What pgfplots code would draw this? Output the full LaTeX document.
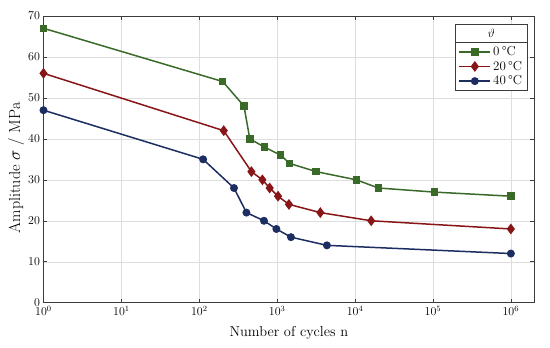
\documentclass[border=0pt]{standalone}
\usepackage{pgfplots}
\pgfplotsset{compat=1.18}
\definecolor{cgreen}{RGB}{58,106,40}
\definecolor{cred}{RGB}{136,22,24}
\definecolor{cblue}{RGB}{28,45,97}
\definecolor{axcol}{RGB}{60,60,60}
\begin{document}
\begin{tikzpicture}
\begin{axis}[
  scale only axis,
  width=490.8pt, height=286.7pt,
  xmode=log, log basis x=10,
  xmin=1, xmax=2e6,
  ymin=0, ymax=70,
  ytick={0,10,...,70},
  xtick={1,10,100,1000,10000,100000,1000000},
  grid=both,
  major grid style={solid, color=black!13},
  minor grid style={dotted, color=black!30},
  minor y tick num=0,
  tick align=inside,
  major tick length=4pt,
  minor tick length=2.5pt,
  tick style={color=axcol, line width=0.5pt},
  axis line style={color=axcol, line width=0.6pt},
  tick label style={font=\fontsize{12}{14}\selectfont},
  xlabel={Number of cycles n},
  ylabel={Amplitude $\sigma$ / MPa},
  every axis x label/.style={at={(axis description cs:0.5,-0.106)}, anchor=center, font=\fontsize{14.4}{17}\selectfont},
  every axis y label/.style={at={(axis description cs:-0.056,0.47)}, anchor=center, rotate=90, font=\fontsize{16}{19}\selectfont},
  legend style={at={(axis description cs:1,1)}, anchor=north east, xshift=-7pt, yshift=-26.3pt,
    draw=axcol, fill=white, font=\fontsize{13}{15}\selectfont, name=leg, row sep=0pt},
  legend cell align=left,
  legend image code/.code={\draw[mark repeat=2,mark phase=2] plot coordinates {(0cm,0cm) (0.55cm,0cm) (1.1cm,0cm)};},
  every axis plot/.append style={line width=1.5pt},
]
\addplot[color=cgreen, mark=square*, mark size=3pt, mark options={fill=cgreen}] coordinates {
(1,67) (200,54) (375,48) (445,40) (685,38) (1110,36) (1445,34) (3170,32) (10370,30) (19950,28) (105000,27) (1000000,26)
};
\addlegendentry{0\,\textdegree C}
\addplot[color=cred, mark=diamond*, mark size=4.2pt, mark options={fill=cred}] coordinates {
(1,56) (206,42) (467,32) (646,30) (801,28) (1025,26) (1416,24) (3580,22) (16100,20) (1000000,18)
};
\addlegendentry{20\,\textdegree C}
\addplot[color=cblue, mark=*, mark size=3.2pt, mark options={fill=cblue}] coordinates {
(1,47) (112,35) (279,28) (403,22) (677,20) (977,18) (1503,16) (4350,14) (1000000,12)
};
\addlegendentry{40\,\textdegree C}
\end{axis}
\filldraw[fill=white, draw=axcol, line width=0.4pt] (leg.north west) -- ++(0,18pt) -| (leg.north east) -- cycle;
\path (leg.north) ++(0,9pt) node {\fontsize{13}{15}\selectfont $\vartheta$};
\path (current axis.south west) +(-43.5pt,-45.3pt) (current axis.north east) +(15.7pt,16pt);
\end{tikzpicture}
\end{document}
